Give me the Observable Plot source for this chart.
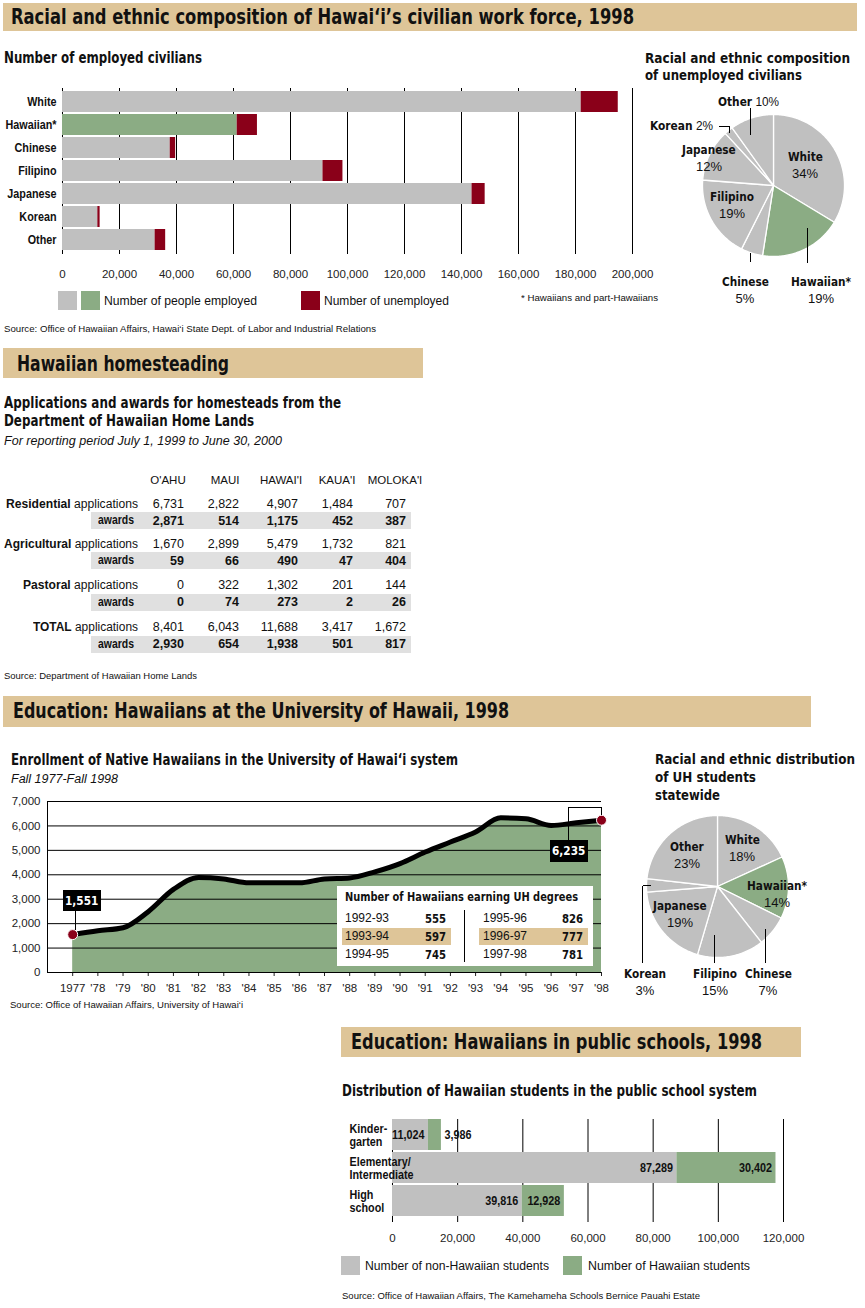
<!DOCTYPE html>
<html><head><meta charset="utf-8">
<script src="https://cdn.jsdelivr.net/npm/d3@7"></script>
<script src="https://cdn.jsdelivr.net/npm/@observablehq/plot@0.6"></script>
<style>
body{margin:0;background:#fff;}
#root{position:relative;width:865px;height:1308px;overflow:hidden;font-family:"Liberation Sans",Arial,sans-serif;color:#111;}
.abs{position:absolute;white-space:nowrap;}
svg{overflow:visible}
</style></head><body><div id="root"></div>
<script>
const TAN="#dec598", GRAY="#c0c0c0", GREEN="#8bac84", RED="#8a0019", BAND="#e0e0e0";
const NARROW='"Liberation Sans Narrow","DejaVu Sans Condensed","Arial Narrow","Liberation Sans",sans-serif';
const SANS='"Liberation Sans",Arial,sans-serif';

// ---------- DATA ----------
const workCategories = ["White","Hawaiian*","Chinese","Filipino","Japanese","Korean","Other"];
const employed = [182000,61300,37800,91400,143700,12400,32500];
const unemployed = [13000,7100,1900,7000,4600,800,3700];
const workTicks = [0,20000,40000,60000,80000,100000,120000,140000,160000,180000,200000];

const unempPieCategories = ["White","Hawaiian*","Chinese","Filipino","Japanese","Korean","Other"];
const unempPiePct = [34,19,5,19,12,2,10];

const islands = ["O'AHU","MAUI","HAWAI'I","KAUA'I","MOLOKA'I"];
const landTypes = ["Residential","Agricultural","Pastoral","TOTAL"];
const residentialApps = [6731,2822,4907,1484,707];
const residentialAwards = [2871,514,1175,452,387];
const agriculturalApps = [1670,2899,5479,1732,821];
const agriculturalAwards = [59,66,490,47,404];
const pastoralApps = [0,322,1302,201,144];
const pastoralAwards = [0,74,273,2,26];
const totalApps = [8401,6043,11688,3417,1672];
const totalAwards = [2930,654,1938,501,817];

const enrollYears = [1977,1978,1979,1980,1981,1982,1983,1984,1985,1986,1987,1988,1989,1990,1991,1992,1993,1994,1995,1996,1997,1998];
const yearLabels = ["1977","'78","'79","'80","'81","'82","'83","'84","'85","'86","'87","'88","'89","'90","'91","'92","'93","'94","'95","'96","'97","'98"];
const enrollment = [1551,1710,1830,2490,3400,3890,3830,3670,3670,3670,3830,3870,4120,4460,4930,5340,5750,6330,6290,6020,6130,6235];
const enrollTicks = [0,1000,2000,3000,4000,5000,6000,7000];

const degreeYears = ["1992-93","1993-94","1994-95","1995-96","1996-97","1997-98"];
const degrees = [555,597,745,826,777,781];

const uhPieCategories = ["White","Hawaiian*","Chinese","Filipino","Japanese","Korean","Other"];
const uhPiePct = [18,14,7,15,19,3,23];

const schoolCategories = ["Kindergarten","Elementary/Intermediate","High school"];
const schoolLabels = ["Kinder-\ngarten","Elementary/\nIntermediate","High\nschool"];
const nonHawaiianStudents = [11024,87289,39816];
const hawaiianStudents = [3986,30402,12928];
const schoolTicks = [0,20000,40000,60000,80000,100000,120000];

// ---------- HELPERS ----------
const root = document.getElementById("root");
const fmt = d3.format(",");
function txt(x, y, s, o = {}) {
  const d = document.createElement("div");
  d.className = "abs";
  const size = o.size || 12;
  d.style.fontSize = size + "px";
  d.style.lineHeight = Math.round(size * 1.25) + "px";
  d.style.fontFamily = o.narrow ? NARROW : SANS;
  d.style.fontWeight = o.bold ? "bold" : "normal";
  if (o.italic) d.style.fontStyle = "italic";
  d.style.color = o.color || "#111";
  if (o.html) d.innerHTML = s; else d.textContent = s;
  root.appendChild(d);
  const r = d.getBoundingClientRect();
  const sc = o.w ? o.w / r.width : (o.s || 1);
  const wf = r.width * sc;
  const a = o.anchor || "start";
  d.style.left = (a === "start" ? x : a === "middle" ? x - wf / 2 : x - wf) + "px";
  d.style.top = (y - r.height / 2) + "px";
  if (sc !== 1) { d.style.transformOrigin = "0 50%"; d.style.transform = `scaleX(${sc})`; }
  return d;
}
function rect(x, y, w, h, bg, css = "") {
  const d = document.createElement("div");
  d.className = "abs";
  d.style.cssText += `left:${x}px;top:${y}px;width:${w}px;height:${h}px;background:${bg};${css}`;
  root.appendChild(d);
  return d;
}
const vline = (x, y1, y2) => rect(x - 0.5, y1, 1, y2 - y1, "#000");
const hline = (x1, x2, y) => rect(x1, y - 0.5, x2 - x1, 1, "#000");
function place(svg, x, y) {
  svg.style.position = "absolute"; svg.style.left = x + "px"; svg.style.top = y + "px";
  root.appendChild(svg);
  return svg;
}
// horizontally condense the text marks of a plot around each text's anchor
function condense(svg, s) {
  svg.querySelectorAll('g[aria-label="text"] text').forEach(t => {
    const tr = t.getAttribute("transform");
    if (tr && tr.includes("translate")) t.setAttribute("transform", tr + ` scale(${s},1)`);
    else {
      const x = +t.getAttribute("x") || 0, y = +t.getAttribute("y") || 0;
      t.setAttribute("transform", `${tr || ""} translate(${x},${y}) scale(${s},1)`);
      t.setAttribute("x", 0); t.setAttribute("y", 0);
    }
  });
  return svg;
}
const plotStyle = (fs) => ({fontFamily: SANS, fontSize: fs + "px", color: "#222", background: "none", overflow: "visible"});

function pieChart(cats, vals, r) {
  const total = d3.sum(vals);
  const pts = [];
  let a0 = 0;
  cats.forEach((c, i) => {
    const a1 = a0 + vals[i] / total * 2 * Math.PI;
    pts.push({name: c, x: 0, y: 0});
    const n = Math.max(2, Math.ceil((a1 - a0) / (Math.PI / 180)));
    for (let k = 0; k <= n; k++) {
      const t = a0 + (a1 - a0) * k / n;
      pts.push({name: c, x: Math.sin(t), y: Math.cos(t)});
    }
    pts.push({name: c, x: 0, y: 0});
    a0 = a1;
  });
  return Plot.plot({
    width: 2 * r + 4, height: 2 * r + 4, margin: 2,
    style: plotStyle(11),
    x: {domain: [-1, 1], axis: null}, y: {domain: [-1, 1], axis: null},
    color: {domain: cats, range: cats.map(c => c === "Hawaiian*" ? GREEN : GRAY)},
    marks: [Plot.line(pts, {x: "x", y: "y", z: "name", fill: "name", stroke: "#fff", strokeWidth: 1.3, strokeLinejoin: "round", curve: "linear"})]
  });
}
const BN = `<b style="font-family:${NARROW.replace(/"/g, "'")}">`;

// ---------- SECTION 1 ----------
rect(3, 3, 854, 28, TAN);
txt(11, 16.5, "Racial and ethnic composition of Hawai‘i’s civilian work force, 1998", {size: 22, bold: true, narrow: true, w: 623});
txt(4, 58, "Number of employed civilians", {size: 15, bold: true, narrow: true, w: 198});

const workRows = workCategories.flatMap((c, i) => [
  {cat: c, kind: c === "Hawaiian*" ? "Hawaiian employed" : "Employed", value: employed[i]},
  {cat: c, kind: "Unemployed", value: unemployed[i]}
]);
condense(place(Plot.plot({
  width: 660, height: 210, marginLeft: 62, marginRight: 28, marginTop: 8, marginBottom: 36,
  style: plotStyle(11.5),
  x: {domain: [0, 200000], ticks: workTicks, tickFormat: fmt, tickSize: 0, tickPadding: 15, label: null},
  y: {domain: workCategories, axis: null, paddingInner: 0.08, paddingOuter: 0},
  color: {domain: ["Employed", "Hawaiian employed", "Unemployed"], range: [GRAY, GREEN, RED]},
  marks: [
    Plot.ruleX(workTicks, {stroke: "#000", strokeWidth: 1}),
    Plot.barX(workRows, {y: "cat", x: "value", fill: "kind"}),
    Plot.text(workCategories, {y: d => d, text: d => d, frameAnchor: "left", textAnchor: "end", dx: -6, fontFamily: SANS, fontWeight: "bold", fontSize: 13, fill: "#111"})
  ]
}), 0, 80), 0.83);

rect(58, 291, 19, 19, GRAY);
rect(81, 291, 19, 19, GREEN);
txt(104, 301, "Number of people employed", {size: 12.5, w: 153});
rect(301, 291, 19, 19, RED);
txt(324, 301, "Number of unemployed", {size: 12.5, w: 125});
txt(521, 298, "* Hawaiians and part-Hawaiians", {size: 9.5, w: 137});
txt(4, 329, "Source: Office of Hawaiian Affairs, Hawai‘i State Dept. of Labor and Industrial Relations", {size: 9.5, w: 372});

// Pie 1
txt(645, 58, "Racial and ethnic composition", {size: 14, bold: true, narrow: true, w: 205});
txt(645, 75, "of unemployed civilians", {size: 14, bold: true, narrow: true, w: 157});
place(pieChart(unempPieCategories, unempPiePct, 71), 699.7, 112);
const pct = v => v + "%";
const pl = {size: 13, bold: true, narrow: true, anchor: "middle", s: 0.9};
const pv = {size: 13, anchor: "middle"};
txt(805, 157, unempPieCategories[0], pl);
txt(805, 173.5, pct(unempPiePct[0]), pv);
txt(709, 150, unempPieCategories[4], pl);
txt(709, 167, pct(unempPiePct[4]), pv);
txt(732, 197, unempPieCategories[3], pl);
txt(732, 214, pct(unempPiePct[3]), pv);
txt(718, 102, `${BN}${unempPieCategories[6]}</b> ${pct(unempPiePct[6])}`, {size: 13, html: true, w: 61});
txt(650, 126, `${BN}${unempPieCategories[5]}</b> ${pct(unempPiePct[5])}`, {size: 13, html: true, w: 63});
txt(745, 282, unempPieCategories[2], pl);
txt(745, 298.5, pct(unempPiePct[2]), pv);
txt(821, 282, unempPieCategories[1], pl);
txt(821, 298.5, pct(unempPiePct[1]), pv);
vline(750.7, 108, 135);
hline(719, 729.5, 126); vline(729, 126, 133);
vline(750.7, 253, 262);
vline(807.7, 228, 263);

// ---------- SECTION 2 ----------
rect(3, 348, 420, 30, TAN);
txt(17, 363.5, "Hawaiian homesteading", {size: 22, bold: true, narrow: true, w: 212});
txt(4, 403.5, "Applications and awards for homesteads from the", {size: 15, bold: true, narrow: true, w: 337});
txt(4, 421.5, "Department of Hawaiian Home Lands", {size: 15, bold: true, narrow: true, w: 250});
txt(4, 440.5, "For reporting period July 1, 1999 to June 30, 2000", {size: 12.5, italic: true, w: 278});

const colCenters = [168, 225, 281, 337, 395];
const colRights = [184, 239, 298, 353, 406];
islands.forEach((isl, j) => txt(colCenters[j], 480, isl, {size: 11.5, anchor: "middle"}));
const appRows = [residentialApps, agriculturalApps, pastoralApps, totalApps];
const awardRows = [residentialAwards, agriculturalAwards, pastoralAwards, totalAwards];
const appY = [504, 543.5, 585, 627];
const awY = [520.5, 560.5, 602, 644];
const rowLabelW = [132, 134, 115, 105];
landTypes.forEach((t, i) => {
  rect(91, awY[i] - 8.5, 320, 17, BAND);
  txt(137.5, appY[i], `<b>${t}</b> applications`, {size: 12.5, html: true, anchor: "end", w: rowLabelW[i]});
  txt(134, awY[i], "awards", {size: 12, bold: true, anchor: "end", w: 36});
  appRows[i].forEach((v, j) => txt(colRights[j], appY[i], fmt(v), {size: 12.5, anchor: "end"}));
  awardRows[i].forEach((v, j) => txt(colRights[j], awY[i], fmt(v), {size: 12.5, bold: true, anchor: "end"}));
});
txt(4, 676, "Source: Department of Hawaiian Home Lands", {size: 9.5, w: 193});

// ---------- SECTION 3 ----------
rect(3, 696, 808, 31, TAN);
txt(13, 711, "Education: Hawaiians at the University of Hawaii, 1998", {size: 22, bold: true, narrow: true, w: 496});
txt(11, 760, "Enrollment of Native Hawaiians in the University of Hawai‘i system", {size: 15, bold: true, narrow: true, w: 447});
txt(11, 779, "Fall 1977-Fall 1998", {size: 12.5, italic: true, w: 107});

const enrollData = enrollYears.map((y, i) => ({year: y, value: enrollment[i]}));
const xDom0 = enrollYears[0] - 1;
place(Plot.plot({
  width: 620, height: 215, marginLeft: 47, marginRight: 19, marginTop: 11, marginBottom: 33,
  style: plotStyle(11.5),
  x: {domain: [xDom0, enrollYears[enrollYears.length - 1]], ticks: enrollYears, tickFormat: d => yearLabels[enrollYears.indexOf(d)], tickSize: 4, tickPadding: 7, label: null},
  y: {domain: [0, 7000], ticks: enrollTicks, tickFormat: fmt, tickSize: 0, tickPadding: 7, label: null},
  marks: [
    Plot.areaY(enrollData, {x: "year", y: "value", fill: GREEN, curve: "monotone-x"}),
    Plot.ruleY(enrollTicks, {x1: xDom0, x2: enrollYears[enrollYears.length - 1], stroke: "#000", strokeWidth: 1}),
    Plot.ruleX([xDom0], {y1: 0, y2: 7000, stroke: "#000", strokeWidth: 1}),
    Plot.line(enrollData, {x: "year", y: "value", stroke: "#000", strokeWidth: 5, curve: "monotone-x"}),
    Plot.dot([enrollData[0], enrollData[enrollData.length - 1]], {x: "year", y: "value", r: 5, fill: RED, stroke: "#fff", strokeWidth: 1})
  ]
}), 0, 790);

// annotations
vline(75, 911, 930);
rect(63, 890, 38, 21, "#000");
txt(82, 900.5, fmt(enrollment[0]), {size: 13, bold: true, narrow: true, color: "#fff", anchor: "middle", s: 0.9});
rect(568, 807, 33, 33, "transparent", "border-left:1px solid #000;border-top:1px solid #000;box-sizing:border-box;");
vline(601, 807, 815);
rect(550, 840, 38, 22, "#000");
txt(569, 851, fmt(enrollment[enrollment.length - 1]), {size: 13, bold: true, narrow: true, color: "#fff", anchor: "middle", s: 0.9});

// inset table
rect(337, 886, 256, 80, "#fff");
rect(342, 928, 109, 17, TAN);
rect(479, 928, 109, 17, TAN);
vline(464, 910, 962);
txt(345, 897, "Number of Hawaiians earning UH degrees", {size: 13, bold: true, narrow: true, w: 233});
const degY = [918.5, 936.5, 954.5];
for (let i = 0; i < 3; i++) {
  txt(345, degY[i], degreeYears[i], {size: 12});
  txt(446, degY[i], fmt(degrees[i]), {size: 12.5, bold: true, narrow: true, anchor: "end", s: 0.9});
  txt(483, degY[i], degreeYears[i + 3], {size: 12});
  txt(583, degY[i], fmt(degrees[i + 3]), {size: 12.5, bold: true, narrow: true, anchor: "end", s: 0.9});
}
txt(10, 1005, "Source: Office of Hawaiian Affairs, University of Hawai‘i", {size: 9.5, w: 233});

// Pie 2
txt(655, 758.5, "Racial and ethnic distribution", {size: 14, bold: true, narrow: true, w: 200});
txt(655, 776.5, "of UH students", {size: 14, bold: true, narrow: true, w: 101});
txt(655, 794.5, "statewide", {size: 14, bold: true, narrow: true, w: 65});
place(pieChart(uhPieCategories, uhPiePct, 71), 643.7, 812.7);
txt(742, 840, uhPieCategories[0], pl);
txt(742, 857, pct(uhPiePct[0]), pv);
txt(777, 886, uhPieCategories[1], pl);
txt(777, 903, pct(uhPiePct[1]), pv);
txt(687, 847, uhPieCategories[6], pl);
txt(687, 864, pct(uhPiePct[6]), pv);
txt(680, 906, uhPieCategories[4], pl);
txt(680, 923, pct(uhPiePct[4]), pv);
txt(645, 974, uhPieCategories[5], pl);
txt(645, 991, pct(uhPiePct[5]), pv);
txt(715, 974, uhPieCategories[3], pl);
txt(715, 991, pct(uhPiePct[3]), pv);
txt(768, 974, uhPieCategories[2], pl);
txt(768, 991, pct(uhPiePct[2]), pv);
hline(642.7, 651, 885.7); vline(642.7, 885.7, 962.7);
vline(714.7, 935, 962.7);
vline(765.7, 929, 962.7);

// ---------- SECTION 4 ----------
rect(341, 1027, 460, 30, TAN);
txt(351, 1042, "Education: Hawaiians in public schools, 1998", {size: 22, bold: true, narrow: true, w: 411});
txt(342, 1091, "Distribution of Hawaiian students in the public school system", {size: 15, bold: true, narrow: true, w: 415});

const schoolRows = schoolCategories.flatMap((c, i) => [
  {cat: c, kind: "non", x1: 0, x2: nonHawaiianStudents[i], v: nonHawaiianStudents[i]},
  {cat: c, kind: "haw", x1: nonHawaiianStudents[i], x2: nonHawaiianStudents[i] + hawaiianStudents[i], v: hawaiianStudents[i]}
]);
condense(place(Plot.plot({
  width: 500, height: 140, marginLeft: 62, marginRight: 47, marginTop: 9, marginBottom: 33,
  style: plotStyle(11.5),
  x: {domain: [0, 120000], ticks: schoolTicks, tickFormat: fmt, tickSize: 0, tickPadding: 16, label: null},
  y: {domain: schoolCategories, axis: null, paddingInner: 0.06, paddingOuter: 0},
  color: {domain: ["non", "haw"], range: [GRAY, GREEN]},
  marks: [
    Plot.ruleX(schoolTicks, {stroke: "#000", strokeWidth: 1, insetBottom: -5}),
    Plot.barX(schoolRows, {y: "cat", x1: "x1", x2: "x2", fill: "kind"}),
    Plot.text(schoolRows.filter(d => d.v >= 5000), {y: "cat", x: "x2", text: d => fmt(d.v), textAnchor: "end", dx: -4, fontFamily: SANS, fontWeight: "bold", fontSize: 13, fill: "#111"}),
    Plot.text(schoolRows.filter(d => d.v < 5000), {y: "cat", x: "x2", text: d => fmt(d.v), textAnchor: "start", dx: 3, fontFamily: SANS, fontWeight: "bold", fontSize: 13, fill: "#111"}),
    Plot.text(schoolCategories, {y: d => d, text: (d, i) => schoolLabels[i], frameAnchor: "left", textAnchor: "start", dx: -43, lineHeight: 1.0, fontFamily: SANS, fontWeight: "bold", fontSize: 13, fill: "#111"})
  ]
}), 330, 1110), 0.83);

rect(341, 1256, 19, 19, GRAY);
txt(365, 1266, "Number of non-Hawaiian students", {size: 12.5, w: 184});
rect(563, 1256, 19, 19, GREEN);
txt(588, 1266, "Number of Hawaiian students", {size: 12.5, w: 162});
txt(342, 1296, "Source: Office of Hawaiian Affairs, The Kamehameha Schools Bernice Pauahi Estate", {size: 9.5, w: 358});
</script></body></html>
